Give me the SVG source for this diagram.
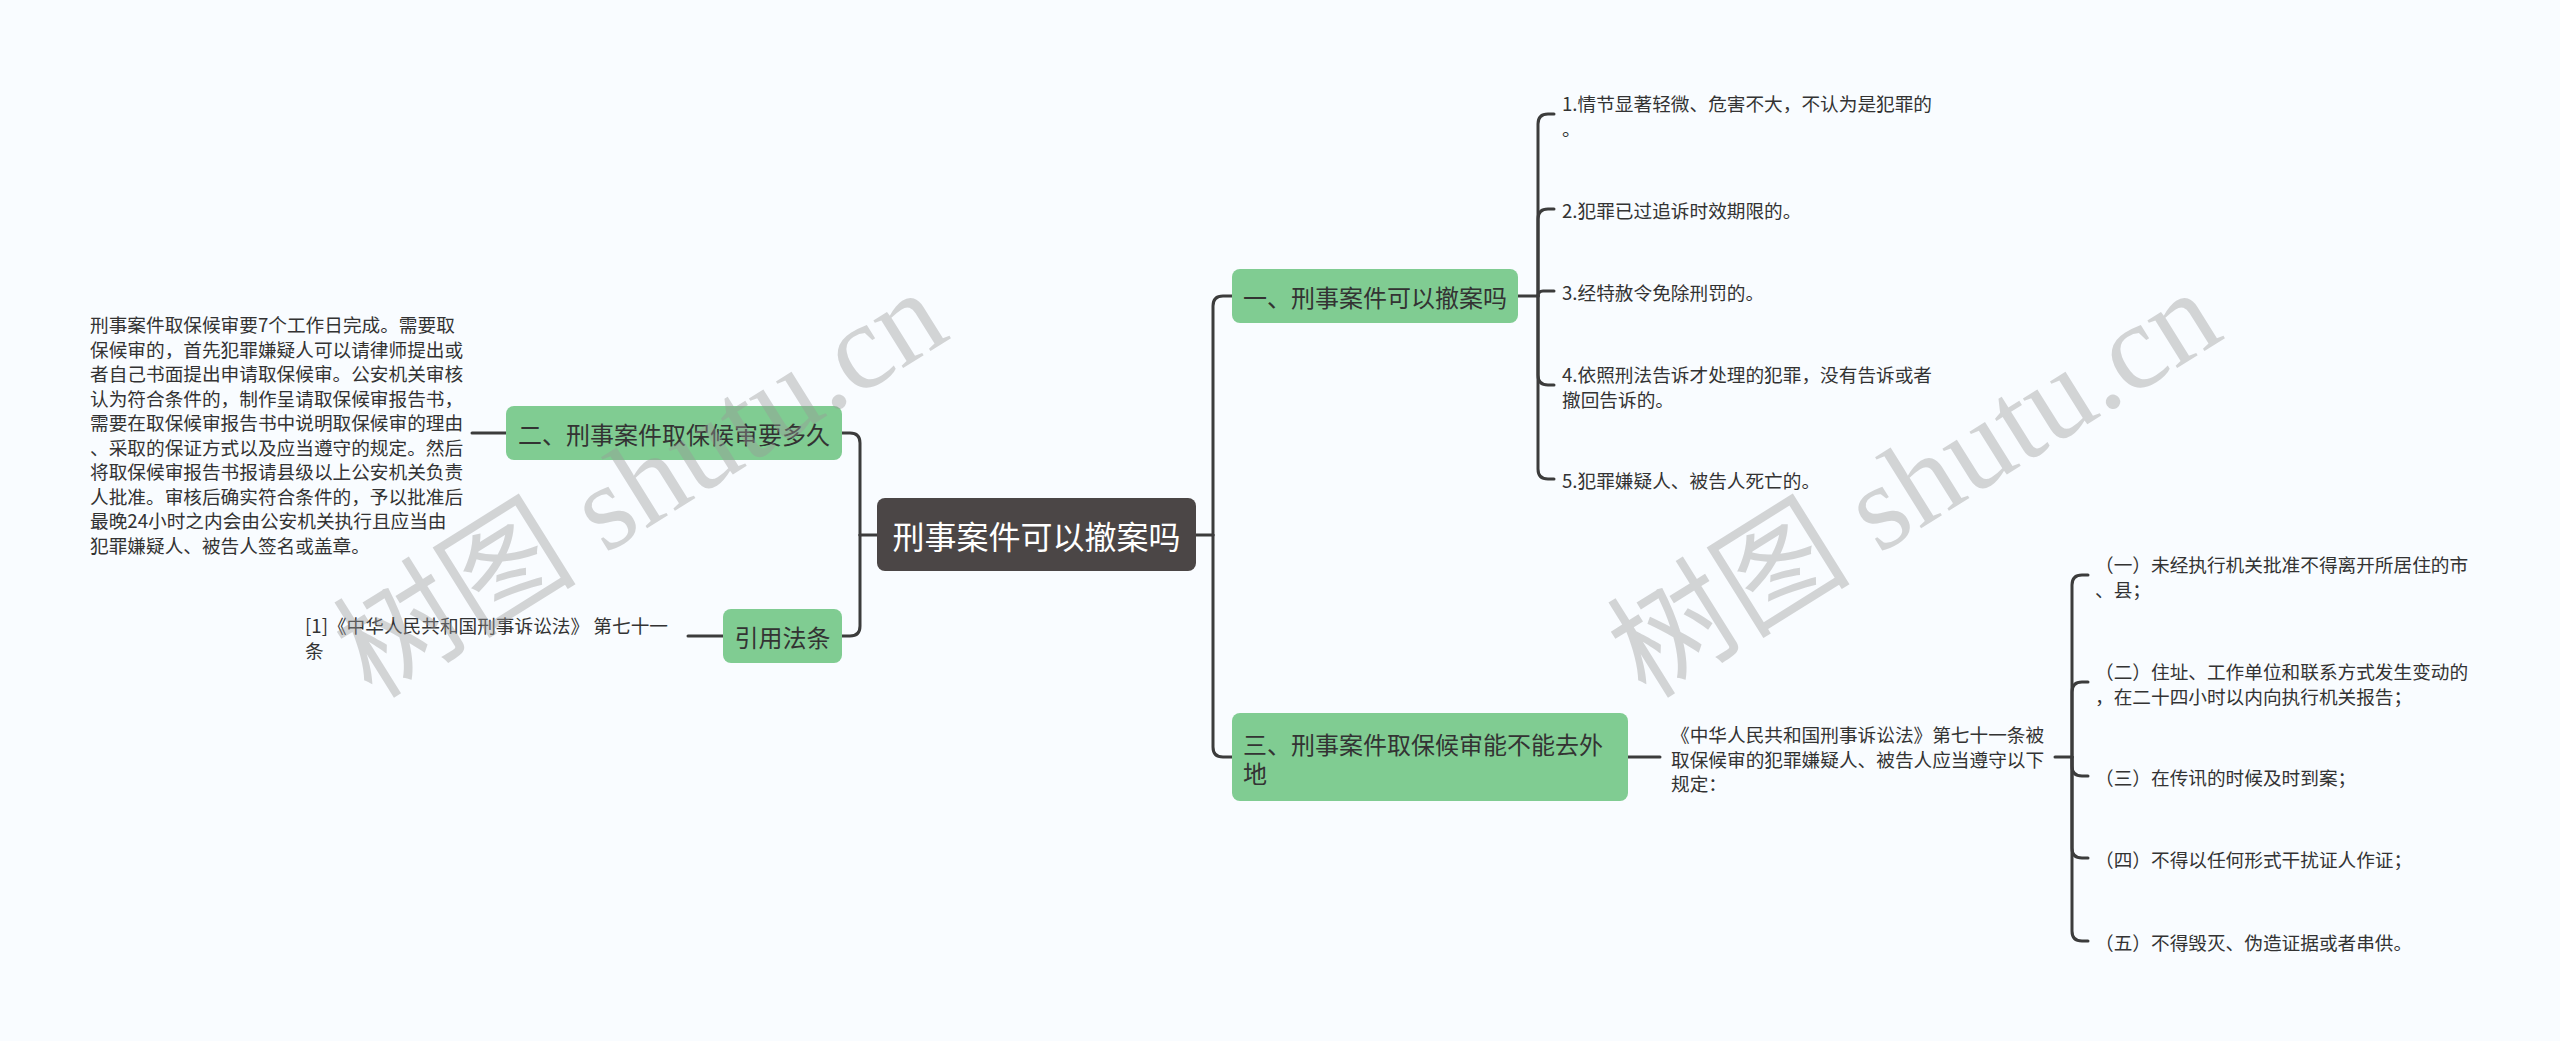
<svg xmlns="http://www.w3.org/2000/svg" width="2560" height="1041" viewBox="0 0 2560 1041">
<style>
text{font-family:"Noto Sans CJK SC","Noto Sans",sans-serif;fill:#333;dominant-baseline:central}
.leaf{font-size:18.67px}
.node{font-size:24px}
.green{fill:#80cc92}
.root{fill:#4b4646}
.conn path{fill:none;stroke:#3c3c3c;stroke-width:3;stroke-linecap:round}
.wm{font-family:"Liberation Serif","Noto Sans CJK SC",serif;font-size:122px;fill:#999;opacity:0.4;dominant-baseline:alphabetic}
</style>
<rect width="2560" height="1041" fill="#f9fcff"/>
<g class="conn" id="connectors">
<path d="M1196 535H1213"/>
<path d="M1213 535V306Q1213 296 1223 296H1232"/>
<path d="M1213 535V747Q1213 757 1223 757H1232"/>
<path d="M877 535H860"/>
<path d="M860 535V443Q860 433 850 433H842"/>
<path d="M860 535V626Q860 636 850 636H842"/>
<path d="M506 433H472"/>
<path d="M723 636H688"/>
<path d="M1518 296H1538"/>
<path d="M1538 296V124Q1538 114 1548 114H1554"/>
<path d="M1538 296V219Q1538 209 1548 209H1554"/>
<path d="M1538 296Q1538 291 1543 291H1554"/>
<path d="M1538 296V375Q1538 385 1548 385H1554"/>
<path d="M1538 296V469Q1538 479 1548 479H1554"/>
<path d="M1628 757H1660"/>
<path d="M2055 757H2072"/>
<path d="M2072 757V585Q2072 575 2082 575H2088"/>
<path d="M2072 757V692Q2072 682 2082 682H2088"/>
<path d="M2072 757V766Q2072 776 2082 776H2088"/>
<path d="M2072 757V848Q2072 858 2082 858H2088"/>
<path d="M2072 757V931Q2072 941 2082 941H2088"/>
</g>
<g id="root">
<rect class="root" x="877" y="498" width="319" height="73" rx="8"/>
<text x="1036.5" y="535" text-anchor="middle" style="font-size:32px;fill:#fff">刑事案件可以撤案吗</text>
</g>
<g id="n1">
<rect class="green" x="1232" y="269" width="286" height="54" rx="8"/>
<text class="node" x="1375" y="296" text-anchor="middle">一、刑事案件可以撤案吗</text>
</g>
<g id="n2">
<rect class="green" x="506" y="406" width="336" height="54" rx="8"/>
<text class="node" x="674" y="433" text-anchor="middle">二、刑事案件取保候审要多久</text>
</g>
<g id="n3">
<rect class="green" x="723" y="609" width="119" height="54" rx="8"/>
<text class="node" x="782.5" y="636" text-anchor="middle">引用法条</text>
</g>
<g id="n4">
<rect class="green" x="1232" y="713" width="396" height="88" rx="8"/>
<text class="node"><tspan x="1243" y="743">三、刑事案件取保候审能不能去外</tspan><tspan x="1243" y="772">地</tspan></text>
</g>
<g id="desc2">
<text class="leaf"><tspan x="90" y="323">刑事案件取保候审要7个工作日完成。需要取</tspan><tspan x="90" y="347.5">保候审的，首先犯罪嫌疑人可以请律师提出或</tspan><tspan x="90" y="372">者自己书面提出申请取保候审。公安机关审核</tspan><tspan x="90" y="396.5">认为符合条件的，制作呈请取保候审报告书，</tspan><tspan x="90" y="421">需要在取保候审报告书中说明取保候审的理由</tspan><tspan x="90" y="445.5">、采取的保证方式以及应当遵守的规定。然后</tspan><tspan x="90" y="470">将取保候审报告书报请县级以上公安机关负责</tspan><tspan x="90" y="494.5">人批准。审核后确实符合条件的，予以批准后</tspan><tspan x="90" y="519">最晚24小时之内会由公安机关执行且应当由</tspan><tspan x="90" y="543.5">犯罪嫌疑人、被告人签名或盖章。</tspan></text>
</g>
<g id="law">
<text class="leaf"><tspan x="305" y="624">[1]《中华人民共和国刑事诉讼法》 第七十一</tspan><tspan x="305" y="648.5">条</tspan></text>
</g>
<g id="l1">
<text class="leaf"><tspan x="1562" y="102">1.情节显著轻微、危害不大，不认为是犯罪的</tspan><tspan x="1562" y="126.5">。</tspan></text>
</g>
<g id="l2"><text class="leaf" x="1562" y="209">2.犯罪已过追诉时效期限的。</text></g>
<g id="l3"><text class="leaf" x="1562" y="291">3.经特赦令免除刑罚的。</text></g>
<g id="l4">
<text class="leaf"><tspan x="1562" y="373">4.依照刑法告诉才处理的犯罪，没有告诉或者</tspan><tspan x="1562" y="397.5">撤回告诉的。</tspan></text>
</g>
<g id="l5"><text class="leaf" x="1562" y="479">5.犯罪嫌疑人、被告人死亡的。</text></g>
<g id="rule">
<text class="leaf"><tspan x="1671" y="733">《中华人民共和国刑事诉讼法》第七十一条被</tspan><tspan x="1671" y="757.5">取保候审的犯罪嫌疑人、被告人应当遵守以下</tspan><tspan x="1671" y="782">规定：</tspan></text>
</g>
<g id="r1">
<text class="leaf"><tspan x="2095" y="563">（一）未经执行机关批准不得离开所居住的市</tspan><tspan x="2095" y="587.5">、县；</tspan></text>
</g>
<g id="r2">
<text class="leaf"><tspan x="2095" y="670">（二）住址、工作单位和联系方式发生变动的</tspan><tspan x="2095" y="694.5">，在二十四小时以内向执行机关报告；</tspan></text>
</g>
<g id="r3"><text class="leaf" x="2095" y="776">（三）在传讯的时候及时到案；</text></g>
<g id="r4"><text class="leaf" x="2095" y="858">（四）不得以任何形式干扰证人作证；</text></g>
<g id="r5"><text class="leaf" x="2095" y="941">（五）不得毁灭、伪造证据或者串供。</text></g>
<g id="watermark">
<text class="wm" x="372" y="700" transform="rotate(-32 372 700)">树图 shutu.cn</text>
<text class="wm" x="1646" y="700" transform="rotate(-32 1646 700)">树图 shutu.cn</text>
</g>
</svg>
